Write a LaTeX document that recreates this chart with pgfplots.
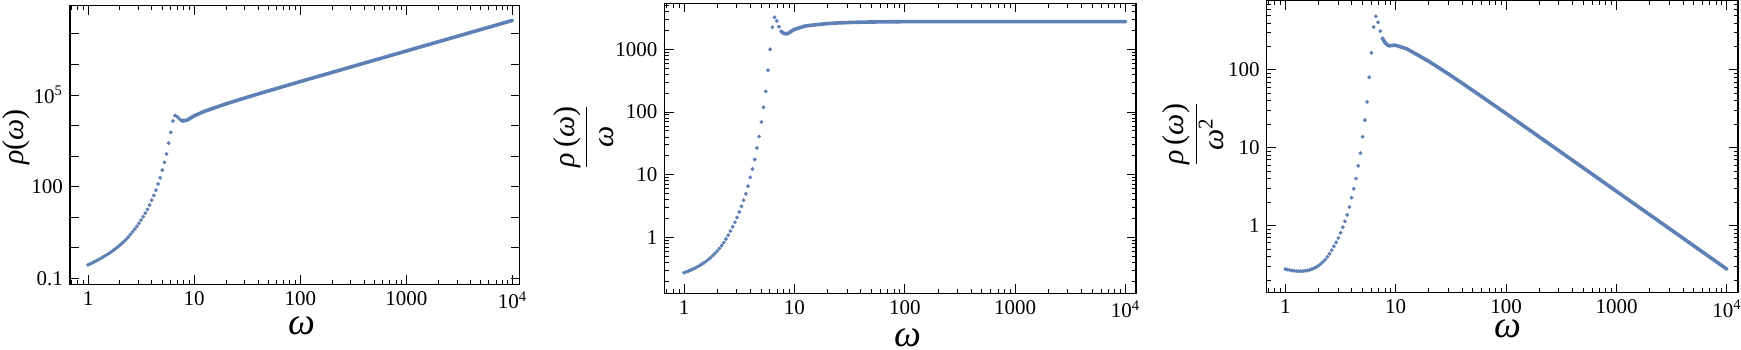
\documentclass[border=0pt]{standalone}
\usepackage{fontspec}
\setmainfont{Liberation Serif}
\usepackage{pgfplots}
\pgfplotsset{compat=1.18}
\usepackage{pgfplotstable}
\definecolor{mblue}{RGB}{94,129,181}

\pgfplotstableread{
w r g h
1.0000 0.2767 0.2767 0.2767
1.0471 0.2985 0.2851 0.2723
1.0965 0.3228 0.2944 0.2685
1.1482 0.3500 0.3048 0.2655
1.2023 0.3802 0.3162 0.2630
1.2589 0.4140 0.3289 0.2612
1.3183 0.4529 0.3436 0.2606
1.3804 0.4966 0.3597 0.2606
1.4454 0.5458 0.3776 0.2612
1.5136 0.6026 0.3981 0.2630
1.5849 0.6684 0.4217 0.2661
1.6596 0.7447 0.4487 0.2704
1.7378 0.8356 0.4808 0.2767
1.8197 0.9419 0.5176 0.2845
1.9055 1.069 0.5610 0.2944
1.9953 1.222 0.6124 0.3069
2.0893 1.406 0.6730 0.3221
2.1878 1.633 0.7465 0.3412
2.2909 1.914 0.8356 0.3648
2.3988 2.280 0.9506 0.3963
2.5119 2.754 1.0965 0.4365
2.6303 3.357 1.2764 0.4853
2.7542 4.121 1.4961 0.5432
2.8840 5.082 1.7620 0.6109
3.0200 6.339 2.0989 0.6950
3.1623 8.091 2.5586 0.8091
3.3113 10.447 3.1550 0.9528
3.4674 13.677 3.9444 1.1376
3.6308 18.114 4.9890 1.3741
3.8019 25.119 6.6069 1.7378
3.9811 36.308 9.1201 2.2909
4.1687 51.763 12.416 2.9786
4.3652 76.738 17.580 4.0273
4.5709 122.74 26.853 5.8747
4.7863 195.89 40.926 8.5505
5.0119 348.34 69.501 13.867
5.2481 625.17 119.13 22.698
5.4954 1174.9 213.80 38.905
5.7544 2666.9 463.44 80.537
6.0256 6025.6 1000.0 165.96
6.3096 14158 2244.0 355.65
6.6069 21380 3235.9 489.78
6.9183 19589 2831.3 409.26
7.2444 16596 2290.9 316.23
7.5858 14622 1927.6 254.10
7.9433 14388 1811.4 228.04
}\dotdata

\pgfplotstableread{
w r g h
7.5858 14622 1927.6 254.10
7.9433 14388 1811.4 228.04
8.3176 14655 1762.0 211.83
8.7096 15488 1778.3 204.17
9.1201 17099 1875.0 205.58
9.5499 18923 1981.6 207.49
10.000 20749 2074.9 207.49
12.589 29648 2355.0 187.07
15.849 39084 2466.0 155.60
19.953 51286 2570.4 128.82
25.119 66069 2630.3 104.71
31.623 84528 2673.0 84.528
39.811 107640 2704.0 67.919
63.096 172580 2735.3 43.351
100.00 275420 2754.2 27.542
316.23 872970 2760.6 8.7297
1000.0 2760500 2760.5 2.7605
3162.3 8729700 2760.5 0.87297
10000 27605000 2760.5 0.27605
}\linedata

\pgfplotsset{
  every axis/.append style={
    scale only axis,
    anchor=north west,
    axis line style={line width=0.7pt},
    every tick/.style={black, line width=0.5pt},
    major tick length=4.5pt,
    minor tick length=2.2pt,
    tick align=inside,
    tick label style={font=\fontsize{10.5}{12}\selectfont},
    xtick={1,10,100,1000,10000},
    xticklabels={1,10,100,1000,10\textsuperscript{4}},
    minor xtick={0.7,0.8,0.9,2,3,4,5,6,7,8,9,20,30,40,50,60,70,80,90,200,300,400,500,600,700,800,900,2000,3000,4000,5000,6000,7000,8000,9000},
    xlabel={\fontsize{19}{22}\selectfont\itshape ω},
  },
}

\begin{document}
\begin{tikzpicture}
\useasboundingbox (0,0) rectangle (870.5pt,-174.5pt);

\begin{loglogaxis}[
  at={(35pt,-2.85pt)}, width=224.8pt, height=139.3pt,
  xmin=0.676, xmax=11670, ymin=0.064, ymax=8.36e7,
  ytick={0.1,1,10,100,1000,10000,100000,1000000,10000000},
  yticklabels={0.1,,,100,,,10\textsuperscript{5},,},
  yminorticks=false,
  ylabel={\fontsize{15}{18}\selectfont\itshape ρ\upshape(\itshape ω\upshape)},
  every axis y label/.style={at={(axis description cs:-0.120,0.529)}, rotate=90, anchor=center},
  every axis x label/.style={at={(axis description cs:0.516,-0.150)}, anchor=center, inner sep=0pt},
]
\addplot[mblue, only marks, mark=*, mark size=0.75pt] table[x=w, y=r] {\dotdata};
\addplot[no markers, mblue, line width=1.8pt, line join=round, line cap=round] table[x=w, y=r] {\linedata};
\end{loglogaxis}

\begin{loglogaxis}[
  at={(332.25pt,-1.65pt)}, width=235.75pt, height=145pt,
  xmin=0.665, xmax=12420, ymin=0.130, ymax=5400,
  ytick={1,10,100,1000},
  yticklabels={1,10,100,1000},
  minor ytick={0.2,0.3,0.4,0.5,0.6,0.7,0.8,0.9,2,3,4,5,6,7,8,9,20,30,40,50,60,70,80,90,200,300,400,500,600,700,800,900,2000,3000,4000,5000},
  ylabel={\fontsize{15}{18}\selectfont$\displaystyle\frac{\mbox{\itshape ρ\upshape\,(\itshape ω\upshape)}}{\mbox{\itshape ω}}$},
  every axis y label/.style={at={(axis description cs:-0.171,0.539)}, rotate=90, anchor=center},
  every axis x label/.style={at={(axis description cs:0.516,-0.153)}, anchor=center, inner sep=0pt},
]
\addplot[mblue, only marks, mark=*, mark size=0.75pt] table[x=w, y=g] {\dotdata};
\addplot[no markers, mblue, line width=1.8pt, line join=round, line cap=round] table[x=w, y=g] {\linedata};
\end{loglogaxis}

\begin{loglogaxis}[
  at={(633.35pt,-0.35pt)}, width=235.65pt, height=146pt,
  xmin=0.678, xmax=12600, ymin=0.1377, ymax=776,
  ytick={1,10,100},
  yticklabels={1,10,100},
  minor ytick={0.2,0.3,0.4,0.5,0.6,0.7,0.8,0.9,2,3,4,5,6,7,8,9,20,30,40,50,60,70,80,90,200,300,400,500,600,700},
  ylabel={\fontsize{15}{18}\selectfont$\displaystyle\frac{\mbox{\itshape ρ\upshape\,(\itshape ω\upshape)}}{\mbox{\itshape ω\upshape\textsuperscript{2}}}$},
  every axis y label/.style={at={(axis description cs:-0.156,0.543)}, rotate=90, anchor=center},
  every axis x label/.style={at={(axis description cs:0.512,-0.125)}, anchor=center, inner sep=0pt},
]
\addplot[mblue, only marks, mark=*, mark size=0.75pt] table[x=w, y=h] {\dotdata};
\addplot[no markers, mblue, line width=1.8pt, line join=round, line cap=round] table[x=w, y=h] {\linedata};
\end{loglogaxis}
\end{tikzpicture}
\end{document}
